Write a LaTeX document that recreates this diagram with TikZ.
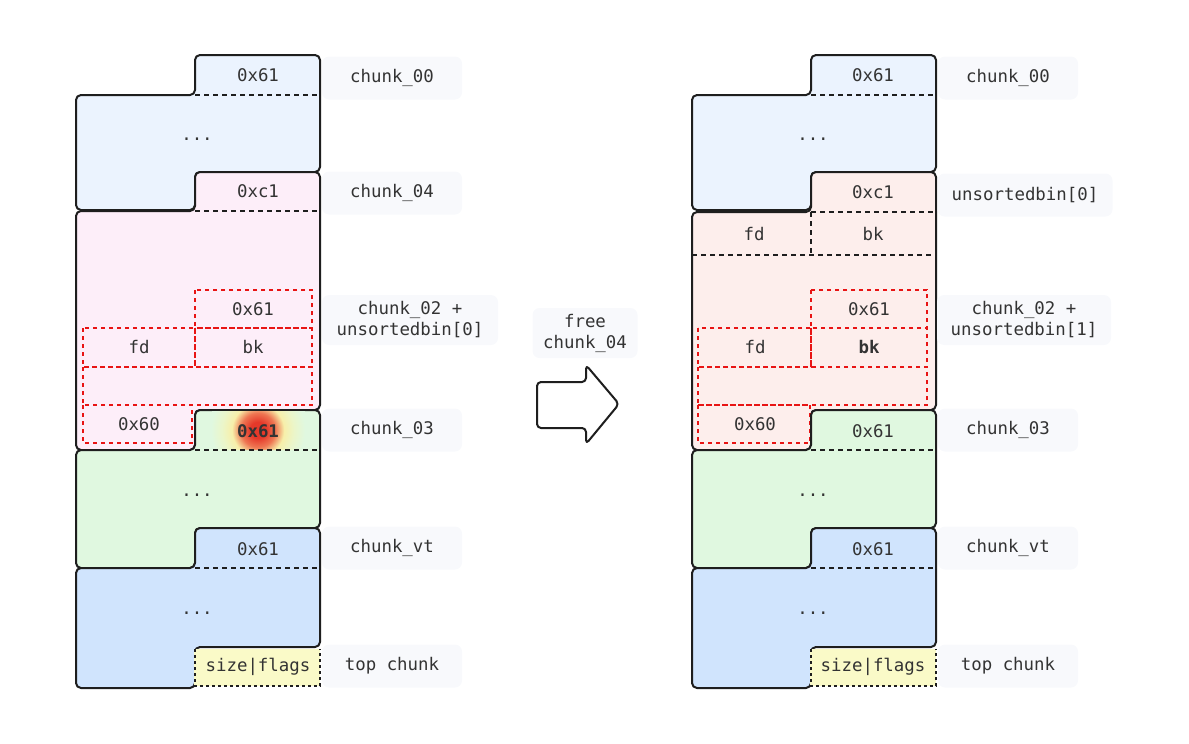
\documentclass[tikz,border=0pt]{standalone}
\usepackage{fontspec}
\setmonofont{DejaVu Sans Mono}
\definecolor{ink}{HTML}{1E1E1E}
\definecolor{txt}{HTML}{333333}
\definecolor{blueA}{HTML}{EBF3FE}
\definecolor{pinkA}{HTML}{FDEEF9}
\definecolor{salmon}{HTML}{FDEEEC}
\definecolor{greenA}{HTML}{E0F8E0}
\definecolor{blueB}{HTML}{D0E4FD}
\definecolor{yel}{HTML}{FAFAC8}
\definecolor{lblbg}{HTML}{F8F9FC}
\definecolor{dred}{HTML}{E81414}
\definecolor{glowred}{HTML}{E5392A}
\definecolor{glowor}{HTML}{EE7552}
\definecolor{glowyel}{HTML}{F7EFAA}
\definecolor{glowpale}{HTML}{EBF6CA}
\pgfdeclareradialshading{glow}{\pgfpoint{0bp}{0bp}}{color(0bp)=(glowred); color(8bp)=(glowred); color(17bp)=(glowor); color(26bp)=(glowyel); color(36bp)=(glowpale); color(47bp)=(greenA); color(50bp)=(greenA)}
\newcommand\chunkshape[8]{\filldraw[chunk, fill=#8] (#2,#4) -- (#3,#4) -- (#3,#6) -- (#2,#6) -- (#2,#7) -- (#1,#7) -- (#1,#5) -- (#2,#5) -- cycle;}
\begin{document}
\begin{tikzpicture}[x=1pt,y=-1pt,
  font=\ttfamily\fontsize{17.4}{21}\selectfont, text=txt,
  chunk/.style={draw=ink, line width=2pt, rounded corners=5pt, line join=round},
  sep/.style={draw=ink, line width=1.6pt, dash pattern=on 5pt off 4pt},
  rbox/.style={draw=dred, line width=2pt, dash pattern=on 4pt off 4pt},
  ydot/.style={draw=ink, line width=1.8pt, dash pattern=on 3pt off 3pt},
  lbl/.style={fill=lblbg, rounded corners=7pt, minimum width=140pt, minimum height=43pt, align=center, inner sep=0pt},
  tx/.style={inner sep=0pt, text height=13pt, text depth=0pt},
  dots/.style={inner sep=0pt, anchor=base}]
\useasboundingbox (0,0) rectangle (1189,744);

% ================= LEFT =================
\chunkshape{76}{195}{320}{55}{95}{172}{210}{blueA}
\draw[sep] (195,95) -- (320,95);
\chunkshape{76}{195}{320}{172}{211}{410}{450}{pinkA}
\draw[sep] (195,211) -- (320,211);
\draw[rbox] (195,290) rectangle (312,328);
\draw[rbox] (83,328) rectangle (195,367);
\draw[rbox] (195,328) rectangle (312,367);
\draw[rbox] (83,367) rectangle (312,405);
\draw[rbox] (83,405) rectangle (192,443);
\chunkshape{76}{195}{320}{410}{450}{528}{568}{greenA}
\begin{scope}
  \clip[rounded corners=5pt] (196,450) -- (196,411) -- (319,411) -- (319,450) -- cycle;
  \node[inner sep=0pt, outer sep=0pt] (glow) at (258,430) {\pgfuseshading{glow}};
\end{scope}
\draw[sep] (195,450) -- (320,450);
\chunkshape{76}{195}{320}{528}{568}{647}{688}{blueB}
\draw[sep] (195,568) -- (320,568);
\fill[yel] (194,649) rectangle (320,686);
\draw[ydot] (195,649) -- (195,686) -- (320,686) -- (320,649);

\node[tx] (a00) at (258,75) {0x61};
\node[dots] (adots1) at (197,140) {...};
\node[tx] (a04) at (258,191) {0xc1};
\node[tx] (a61) at (253,309) {0x61};
\node[tx] (afd) at (139,347) {fd};
\node[tx] (abk) at (253,347) {bk};
\node[tx] (a60) at (139,424) {0x60};
\node[tx] (a03) at (258,431) {\bfseries 0x61};
\node[dots] (adots2) at (197,496) {...};
\node[tx] (avt) at (258,549) {0x61};
\node[dots] (adots3) at (197,614) {...};
\node[tx] (atop) at (258,665) {size|flags};

\node[lbl] (l00) at (392,78) {chunk\_00};
\node[lbl] (l04) at (392,193) {chunk\_04};
\node[lbl, minimum width=176pt, minimum height=50pt] (l02) at (410,320) {chunk\_02 +\\unsortedbin[0]};
\node[lbl] (l03) at (392,430) {chunk\_03};
\node[lbl] (lvt) at (392,548) {chunk\_vt};
\node[lbl] (ltop) at (392,666) {top chunk};

% ================= MIDDLE =================
\node[lbl, minimum width=105pt, minimum height=50pt] (free) at (585,333) {free\\chunk\_04};
\filldraw[chunk, fill=white, rounded corners=4pt] (537,382) -- (586,382) -- (586,365) -- (619,404) -- (586,444) -- (586,428) -- (537,428) -- cycle;

% ================= RIGHT =================
\chunkshape{692}{811}{936}{55}{95}{172}{210}{blueA}
\draw[sep] (811,95) -- (936,95);
\chunkshape{692}{811}{936}{172}{212}{410}{450}{salmon}
\draw[sep] (811,212) -- (936,212);
\draw[sep] (811,212) -- (811,255);
\draw[sep] (692,255) -- (936,255);
\draw[rbox] (811,290) rectangle (927,328);
\draw[rbox] (698,328) rectangle (811,367);
\draw[rbox] (811,328) rectangle (927,367);
\draw[rbox] (698,367) rectangle (927,405);
\draw[rbox] (698,405) rectangle (810,443);
\chunkshape{692}{811}{936}{410}{450}{528}{568}{greenA}
\draw[sep] (811,450) -- (936,450);
\chunkshape{692}{811}{936}{528}{568}{647}{688}{blueB}
\draw[sep] (811,568) -- (936,568);
\fill[yel] (810,649) rectangle (936,686);
\draw[ydot] (811,649) -- (811,686) -- (936,686) -- (936,649);

\node[tx] (b00) at (873,75) {0x61};
\node[dots] (bdots1) at (813,140) {...};
\node[tx] (b04) at (873,192) {0xc1};
\node[tx] (bfd0) at (754,234) {fd};
\node[tx] (bbk0) at (873,234) {bk};
\node[tx] (b61) at (869,309) {0x61};
\node[tx] (bfd) at (755,347) {fd};
\node[tx] (bbk) at (869,347) {\bfseries bk};
\node[tx] (b60) at (755,424) {0x60};
\node[tx] (b03) at (873,431) {0x61};
\node[dots] (bdots2) at (813,496) {...};
\node[tx] (bvt) at (873,549) {0x61};
\node[dots] (bdots3) at (813,614) {...};
\node[tx] (btop) at (873,665) {size|flags};

\node[lbl] (r00) at (1008,78) {chunk\_00};
\node[lbl, minimum width=175pt] (r04) at (1025,195) {unsortedbin[0]};
\node[lbl, minimum width=174pt, minimum height=50pt] (r02) at (1024,320) {chunk\_02 +\\unsortedbin[1]};
\node[lbl] (r03) at (1008,430) {chunk\_03};
\node[lbl] (rvt) at (1008,548) {chunk\_vt};
\node[lbl] (rtop) at (1008,666) {top chunk};
\end{tikzpicture}
\end{document}
